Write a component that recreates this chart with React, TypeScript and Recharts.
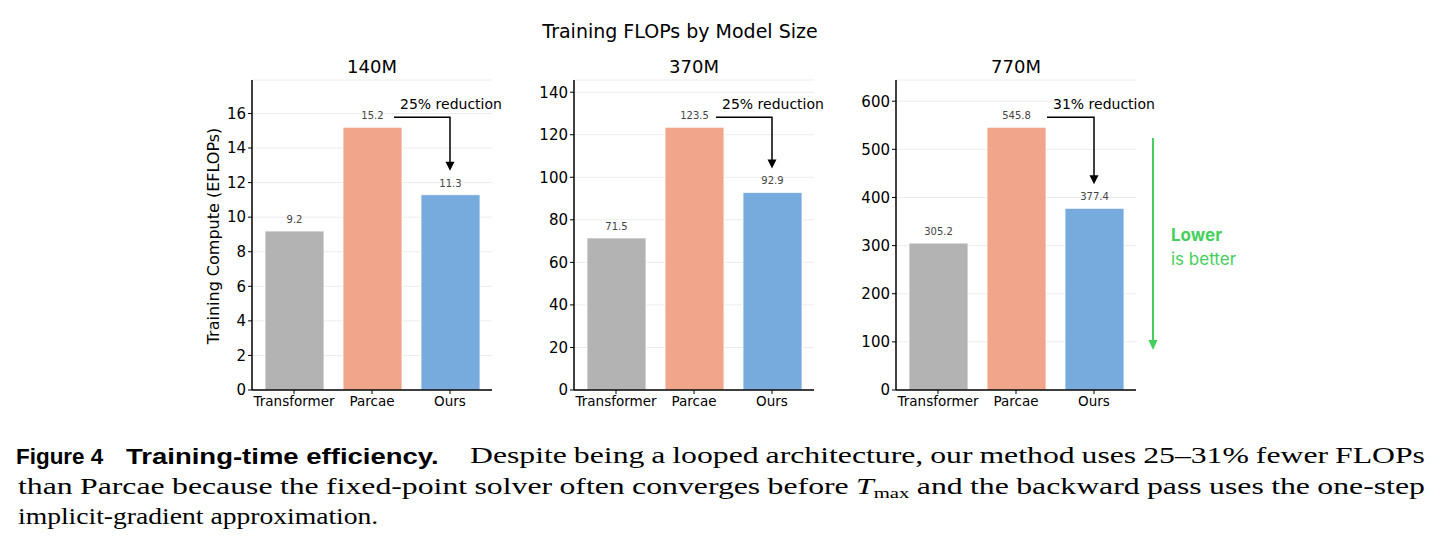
import React from 'react';
import {
  BarChart,
  Bar,
  XAxis,
  YAxis,
  CartesianGrid,
  Cell,
  LabelList,
  ReferenceLine,
} from 'recharts';

const models = ['Transformer', 'Parcae', 'Ours'];
const modelSizes = ['140M', '370M', '770M'];
const flops140M = [9.2, 15.2, 11.3];
const flops370M = [71.5, 123.5, 92.9];
const flops770M = [305.2, 545.8, 377.4];
const ticks140M = [0, 2, 4, 6, 8, 10, 12, 14, 16];
const ticks370M = [0, 20, 40, 60, 80, 100, 120, 140];
const ticks770M = [0, 100, 200, 300, 400, 500, 600];
const reductionLabels = ['25% reduction', '25% reduction', '31% reduction'];

const barColors = ['#b3b3b3', '#f1a58b', '#77aadd'];
const GREEN = '#45cf5c';
const FONT = '"DejaVu Sans", sans-serif';
const SERIF = '"Liberation Serif", serif';
const BOLD_SANS = '"Liberation Sans", sans-serif';
const PLOT_W = 240;

// elbow arrow from the Parcae label down to the Ours label
function ReductionArrow(props: any) {
  const { x1, y1, x2, y2, dx, text } = props;
  const yLine = y1 - 10;
  const tipY = y2 - 24;
  const startX = x1 + dx;
  return (
    <g>
      <path
        d={`M${startX},${yLine} H${x2} V${tipY - 8}`}
        stroke="#000"
        strokeWidth={1.5}
        fill="none"
      />
      <path d={`M${x2 - 4.5},${tipY - 9} L${x2 + 4.5},${tipY - 9} L${x2},${tipY} Z`} fill="#000" />
      <text x={startX + 6} y={yLine - 8} fontSize={14} fontFamily={FONT} fill="#000">
        {text}
      </text>
    </g>
  );
}

type PanelProps = {
  title: string;
  values: number[];
  ticks: number[];
  reduction: string;
  left: number;
  axisWidth: number;
  arrowDx: number;
  yLabel?: string;
};

function Panel({ title, values, ticks, reduction, left, axisWidth, arrowDx, yLabel }: PanelProps) {
  const data = models.map((name, i) => ({ name, value: values[i] }));
  const yMax = Math.max(...values) * 1.18;
  const width = axisWidth + PLOT_W + 20;

  return (
    <div style={{ position: 'absolute', left, top: 0 }}>
      <div
        style={{
          position: 'absolute',
          left: axisWidth,
          width: PLOT_W,
          top: 56,
          textAlign: 'center',
          fontSize: 18,
          lineHeight: '22px',
          fontFamily: FONT,
          color: '#000',
        }}
      >
        {title}
      </div>
      <BarChart width={width} height={430} data={data} margin={{ top: 80, right: 20, bottom: 0, left: 0 }}>
        <CartesianGrid vertical={false} stroke="#ececec" />
        <XAxis
          dataKey="name"
          height={40}
          interval={0}
          padding={{ left: 3, right: 3 }}
          axisLine={{ stroke: '#000', strokeWidth: 1.5 }}
          tickLine={{ stroke: '#000' }}
          tickSize={4}
          tick={{ fill: '#000', fontSize: 13.5, fontFamily: FONT }}
        />
        <YAxis
          width={axisWidth}
          type="number"
          domain={[0, yMax]}
          ticks={ticks}
          interval={0}
          axisLine={{ stroke: '#000', strokeWidth: 1.5 }}
          tickLine={{ stroke: '#000' }}
          tickSize={4}
          tick={{ fill: '#000', fontSize: 15, fontFamily: FONT }}
          label={
            yLabel
              ? {
                  content: (p: any) => {
                    const vb = p.viewBox;
                    const cx = vb.x + vb.width - 39;
                    const cy = vb.y + vb.height / 2 + 1;
                    return (
                      <text
                        x={cx}
                        y={cy}
                        transform={`rotate(-90 ${cx} ${cy})`}
                        textAnchor="middle"
                        dominantBaseline="central"
                        fontSize={16}
                        fontFamily={FONT}
                        fill="#000"
                      >
                        {yLabel}
                      </text>
                    );
                  },
                }
              : undefined
          }
        />
        <Bar dataKey="value" barSize={59} isAnimationActive={false} stroke="#ffffff" strokeWidth={0.8}>
          {data.map((d, i) => (
            <Cell key={d.name} fill={barColors[i]} />
          ))}
          <LabelList
            dataKey="value"
            position="top"
            offset={8}
            fill="#444"
            fontSize={10}
            fontFamily={FONT}
            formatter={(v: any) => Number(v).toFixed(1)}
          />
        </Bar>
        <ReferenceLine
          segment={[
            { x: models[1], y: values[1] },
            { x: models[2], y: values[2] },
          ]}
          ifOverflow="visible"
          shape={(p: any) => <ReductionArrow {...p} dx={arrowDx} text={reduction} />}
        />
      </BarChart>
    </div>
  );
}

// one caption line, stretched sideways and spread to a fixed width
function CaptionLine({
  left,
  top,
  width,
  scale,
  justify,
  children,
}: {
  left: number;
  top: number;
  width: number;
  scale: number;
  justify: boolean;
  children: React.ReactNode;
}) {
  return (
    <div
      style={{
        position: 'absolute',
        left,
        top,
        width: width / scale,
        transform: `scaleX(${scale})`,
        transformOrigin: '0 0',
        display: 'flex',
        justifyContent: justify ? 'space-between' : 'flex-start',
        columnGap: justify ? 0 : '0.25em',
        whiteSpace: 'nowrap',
        fontFamily: SERIF,
        fontSize: 23,
        lineHeight: '22px',
        color: '#000',
      }}
    >
      {children}
    </div>
  );
}

const words = (s: string) => s.split(' ').map((w, i) => <span key={i}>{w}</span>);

const boldCaption = (scale: number): React.CSSProperties => ({
  position: 'absolute',
  top: 446,
  fontFamily: BOLD_SANS,
  fontWeight: 700,
  fontSize: 22,
  lineHeight: '22px',
  whiteSpace: 'nowrap',
  transform: `scaleX(${scale})`,
  transformOrigin: '0 0',
});

export default function App() {
  return (
    <div
      style={{
        position: 'absolute',
        left: 0,
        top: 0,
        width: 1442,
        height: 550,
        background: '#fff',
        overflow: 'hidden',
      }}
    >
      <div
        style={{
          position: 'absolute',
          left: 480,
          width: 400,
          top: 20,
          textAlign: 'center',
          fontSize: 19,
          lineHeight: '22px',
          fontFamily: FONT,
          color: '#000',
        }}
      >
        Training FLOPs by Model Size
      </div>

      <Panel
        title={modelSizes[0]}
        values={flops140M}
        ticks={ticks140M}
        reduction={reductionLabels[0]}
        left={150}
        axisWidth={102}
        arrowDx={22}
        yLabel="Training Compute (EFLOPs)"
      />
      <Panel
        title={modelSizes[1]}
        values={flops370M}
        ticks={ticks370M}
        reduction={reductionLabels[1]}
        left={514}
        axisWidth={60}
        arrowDx={22}
      />
      <Panel
        title={modelSizes[2]}
        values={flops770M}
        ticks={ticks770M}
        reduction={reductionLabels[2]}
        left={836}
        axisWidth={60}
        arrowDx={31}
      />

      {/* "lower is better" hint beside the last panel */}
      <svg style={{ position: 'absolute', left: 1140, top: 130 }} width={30} height={230}>
        <line x1={13} y1={8} x2={13} y2={212} stroke={GREEN} strokeWidth={2} />
        <path d="M8.5,210 L17.5,210 L13,220 Z" fill={GREEN} />
      </svg>
      <div
        style={{
          position: 'absolute',
          left: 1171,
          top: 223,
          fontFamily: 'Inter, sans-serif',
          fontSize: 17,
          lineHeight: '24px',
          color: GREEN,
        }}
      >
        <div style={{ fontWeight: 700 }}>Lower</div>
        <div>is better</div>
      </div>

      {/* caption */}
      <div style={{ ...boldCaption(1.02), left: 16 }}>Figure 4</div>
      <div style={{ ...boldCaption(1.25), left: 126 }}>Training-time efficiency.</div>
      <CaptionLine left={470} top={445} width={955} scale={1.38} justify>
        {words('Despite being a looped architecture, our method uses 25–31% fewer FLOPs')}
      </CaptionLine>
      <CaptionLine left={18} top={476} width={1407} scale={1.38} justify>
        {words('than Parcae because the fixed-point solver often converges before')}
        <span>
          <i>T</i>
          <span style={{ fontSize: 15, position: 'relative', top: 4 }}>max</span>
        </span>
        {words('and the backward pass uses the one-step')}
      </CaptionLine>
      <CaptionLine left={18} top={506} width={400} scale={1.2} justify={false}>
        {words('implicit-gradient approximation.')}
      </CaptionLine>
    </div>
  );
}
